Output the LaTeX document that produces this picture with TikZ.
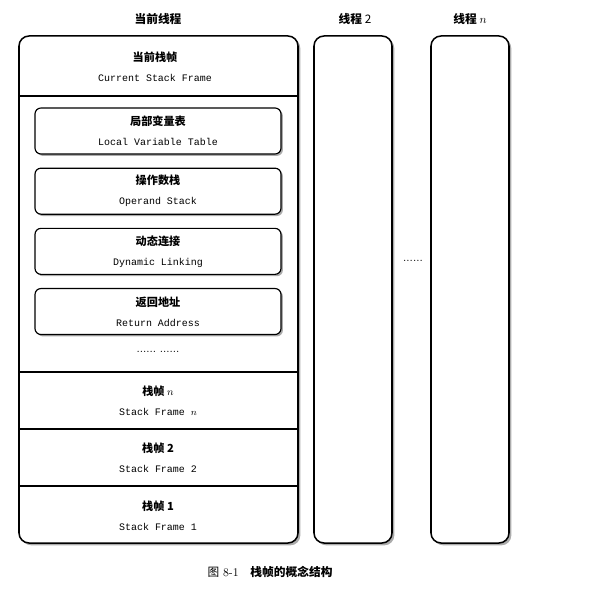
\documentclass[tikz,border=0pt]{standalone}
\usepackage{fontspec}
\setmonofont{Liberation Mono}
\newfontfamily\cjk{Noto Sans CJK SC}
\usetikzlibrary{positioning,shadows}
\tikzset{
  threadbox/.style={draw, line width=1.3pt, rounded corners=0.3cm, fill=white, minimum width=2.34cm, minimum height=15.21cm,
    drop shadow={shadow xshift=2pt, shadow yshift=-2pt, fill=black!65}},
  slotbox/.style={draw, line width=1pt, rounded corners=0.18cm, fill=white, minimum width=7.38cm, minimum height=1.38cm,
    align=center, font=\ttfamily\fontsize{8.5}{11}\selectfont,
    drop shadow={shadow xshift=1.6pt, shadow yshift=-1.6pt, fill=black!65}},
  framelabel/.style={align=center, font=\ttfamily\fontsize{8.5}{11}\selectfont},
  titlelabel/.style={font=\cjk\bfseries\fontsize{10}{12}\selectfont},
  dotlabel/.style={font=\fontsize{10}{12}\selectfont},
  divider/.style={line width=1pt}
}
\newcommand{\cnen}[2]{{\cjk\bfseries\fontsize{9.5}{11}\selectfont #1}\\[6pt]#2}

\begin{document}
\begin{tikzpicture}[x=0.03cm, y=-0.03cm]
  \useasboundingbox (0,0) rectangle (591,593);

  % threads
  \node[threadbox, minimum width=8.37cm] (cur) at (158.5,289.5) {};
  \node[threadbox] (thr2) at (353,289.5) {};
  \node[threadbox] (thrn) at (470,289.5) {};
  \node[titlelabel] (curtitle) at (158,19) {当前线程};
  \node[titlelabel] (thr2title) at (355,19) {线程 \textmd{2}};
  \node[titlelabel] (thrntitle) at (470,19) {线程 $n$};
  \node[dotlabel] (midots) at (413,261) {......};

  % current frame
  \node[framelabel] (curframe) at (155,66.5) {\cnen{当前栈帧}{Current Stack Frame}};
  \draw[divider] (cur.west |- 0,96) -- (cur.east |- 0,96);
  \node[slotbox] (lvt) at (158,131) {\cnen{局部变量表}{Local Variable Table}};
  \node[slotbox, below=0.39cm of lvt] (ops) {\cnen{操作数栈}{Operand Stack}};
  \node[slotbox, below=0.39cm of ops] (dyn) {\cnen{动态连接}{Dynamic Linking}};
  \node[slotbox, below=0.39cm of dyn] (ret) {\cnen{返回地址}{Return Address}};
  \node[dotlabel] (moredots) at (158,352) {......\ ......};

  % older frames
  \draw[divider] (cur.west |- 0,372) -- (cur.east |- 0,372);
  \node[framelabel] (framen) at (158,400.5) {\cnen{栈帧 $n$}{Stack Frame $n$}};
  \draw[divider] (cur.west |- 0,429) -- (cur.east |- 0,429);
  \node[framelabel] (frame2) at (158,457.5) {\cnen{栈帧 2}{Stack Frame 2}};
  \draw[divider] (cur.west |- 0,486) -- (cur.east |- 0,486);
  \node[framelabel] (frame1) at (158,516) {\cnen{栈帧 1}{Stack Frame 1}};

  \node[font=\fontsize{10}{12}\selectfont] (caption) at (270,572) {{\cjk 图} 8-1\quad{\cjk\bfseries 栈帧的概念结构}};
\end{tikzpicture}
\end{document}
